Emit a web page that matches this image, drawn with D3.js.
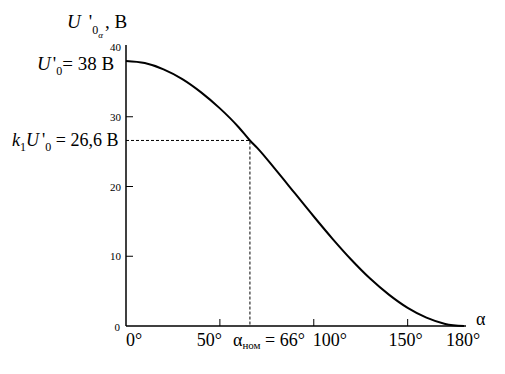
<!DOCTYPE html>
<html>
<head>
<meta charset="utf-8">
<script src="https://cdn.jsdelivr.net/npm/d3@7"></script>
<style>
  body { margin: 0; background: #fff; }
</style>
</head>
<body>
<div id="chart"></div>
<script>
'use strict';

// curve (alpha in degrees, U'0alpha in volts)
var alphaValues = [0, 10, 20, 30, 40, 50, 60, 66, 70, 80, 90, 100, 110, 120, 130, 140, 150, 160, 170, 180];
var voltValues = [38, 37.7, 36.8, 35.4, 33.5, 31.2, 28.5, 26.6, 25.5, 22.3, 19, 15.7, 12.5, 9.5, 6.8, 4.5, 2.6, 1.2, 0.3, 0];

var yTicks = [0, 10, 20, 30, 40];
var xTicks = [50, 100, 150];
var xTickLabels = ['0°', '50°', '100°', '150°', '180°'];
var xTickLabelValues = [0, 50, 100, 150, 180];

var nominalAlpha = 66;
var nominalVolt = 26.6;

var width = 505;
var height = 374;
var serif = "'Liberation Serif', 'DejaVu Serif', serif";

var svg = d3.select('#chart').append('svg')
  .attr('width', width)
  .attr('height', height)
  .attr('font-family', serif);

var x = d3.scaleLinear().domain([0, 180]).range([126, 464]);
var y = d3.scaleLinear().domain([0, 40]).range([326, 47]);

// axes
svg.append('line')
  .attr('x1', x(0)).attr('x2', x(0))
  .attr('y1', y(0)).attr('y2', 45)
  .attr('stroke', '#000').attr('stroke-width', 1.5);

svg.append('line')
  .attr('x1', x(0)).attr('x2', 466)
  .attr('y1', y(0)).attr('y2', y(0))
  .attr('stroke', '#000').attr('stroke-width', 1.5);

// inward ticks
svg.selectAll('.ytick')
  .data(yTicks.filter(function (d) { return d > 0 && d < 40; }))
  .enter().append('line')
  .attr('x1', x(0)).attr('x2', x(0) + 7)
  .attr('y1', function (d) { return y(d); })
  .attr('y2', function (d) { return y(d); })
  .attr('stroke', '#000');

svg.selectAll('.xtick')
  .data(xTicks).enter().append('line')
  .attr('x1', function (d) { return x(d); })
  .attr('x2', function (d) { return x(d); })
  .attr('y1', y(0)).attr('y2', y(0) - 7)
  .attr('stroke', '#000');

// y tick labels (small)
svg.selectAll('.ylabel')
  .data(yTicks).enter().append('text')
  .attr('x', function (d) { return d === 0 ? 120 : 121; })
  .attr('y', function (d) { return y(d) + (d === 0 ? 5 : 4); })
  .attr('text-anchor', 'end')
  .attr('font-family', serif)
  .attr('font-size', 11)
  .text(function (d) { return d; });

// x tick labels
var xLabelAnchor = ['start', 'end', 'start', 'middle', 'middle'];
var xLabelShift = [0, 2, -1, -2, -1];
svg.selectAll('.xlabel')
  .data(xTickLabels).enter().append('text')
  .attr('x', function (d, i) { return x(xTickLabelValues[i]) + xLabelShift[i]; })
  .attr('y', 346)
  .attr('text-anchor', function (d, i) { return xLabelAnchor[i]; })
  .attr('font-family', serif)
  .attr('font-size', 18)
  .text(function (d) { return d; });

// alpha_nom label
var nomLabel = svg.append('text')
  .attr('x', 233).attr('y', 346)
  .attr('font-family', serif)
  .attr('font-size', 18);
nomLabel.append('tspan').text('α');
nomLabel.append('tspan').attr('font-size', 11).attr('dy', 3).text('ном');
nomLabel.append('tspan').attr('dy', -3).text(' = ' + nominalAlpha + '°');

// alpha axis name
svg.append('text')
  .attr('x', 476).attr('y', 325)
  .attr('font-family', serif)
  .attr('font-size', 18)
  .text('α');

// y axis name
var yName = svg.append('text')
  .attr('x', 67).attr('y', 28)
  .attr('font-family', serif)
  .attr('font-size', 19);
yName.append('tspan').attr('font-style', 'italic').text('U');
yName.append('tspan').attr('dx', 8).text("'");
yName.append('tspan').attr('font-size', 12).attr('dy', 6).text('0');
yName.append('tspan').attr('font-size', 9).attr('font-style', 'italic').attr('dy', 4).text('α');
yName.append('tspan').attr('dy', -10).attr('dx', 2).text(', B');

// U'0 = 38 B
var u0Label = svg.append('text')
  .attr('x', 37).attr('y', 70)
  .attr('font-family', serif)
  .attr('font-size', 19);
u0Label.append('tspan').attr('font-style', 'italic').text('U');
u0Label.append('tspan').attr('dx', 2).text("'");
u0Label.append('tspan').attr('font-size', 12).attr('dy', 5).text('0');
u0Label.append('tspan').attr('dy', -5).text('= ' + voltValues[0] + ' B');

// k1U'0 = 26,6 B
var kLabel = svg.append('text')
  .attr('x', 12).attr('y', 146)
  .attr('font-family', serif)
  .attr('font-size', 18);
kLabel.append('tspan').attr('font-style', 'italic').text('k');
kLabel.append('tspan').attr('font-size', 12).attr('dy', 5).text('1');
kLabel.append('tspan').attr('font-style', 'italic').attr('dy', -5).text('U');
kLabel.append('tspan').attr('dx', 3).text("'");
kLabel.append('tspan').attr('font-size', 12).attr('dy', 5).text('0');
kLabel.append('tspan').attr('dy', -5).text(' = ' + String(nominalVolt).replace('.', ',') + ' B');

// dashed guides to the nominal point
svg.append('path')
  .attr('d', 'M' + x(0) + ',' + y(nominalVolt) + 'H' + x(nominalAlpha) + 'V' + y(0))
  .attr('fill', 'none')
  .attr('stroke', '#000')
  .attr('stroke-width', 1)
  .attr('stroke-dasharray', '3,2');

// curve
var line = d3.line()
  .x(function (d, i) { return x(alphaValues[i]); })
  .y(function (d) { return y(d); })
  .curve(d3.curveMonotoneX);

svg.append('path')
  .datum(voltValues)
  .attr('d', line)
  .attr('fill', 'none')
  .attr('stroke', '#000')
  .attr('stroke-width', 2);
</script>
</body>
</html>
